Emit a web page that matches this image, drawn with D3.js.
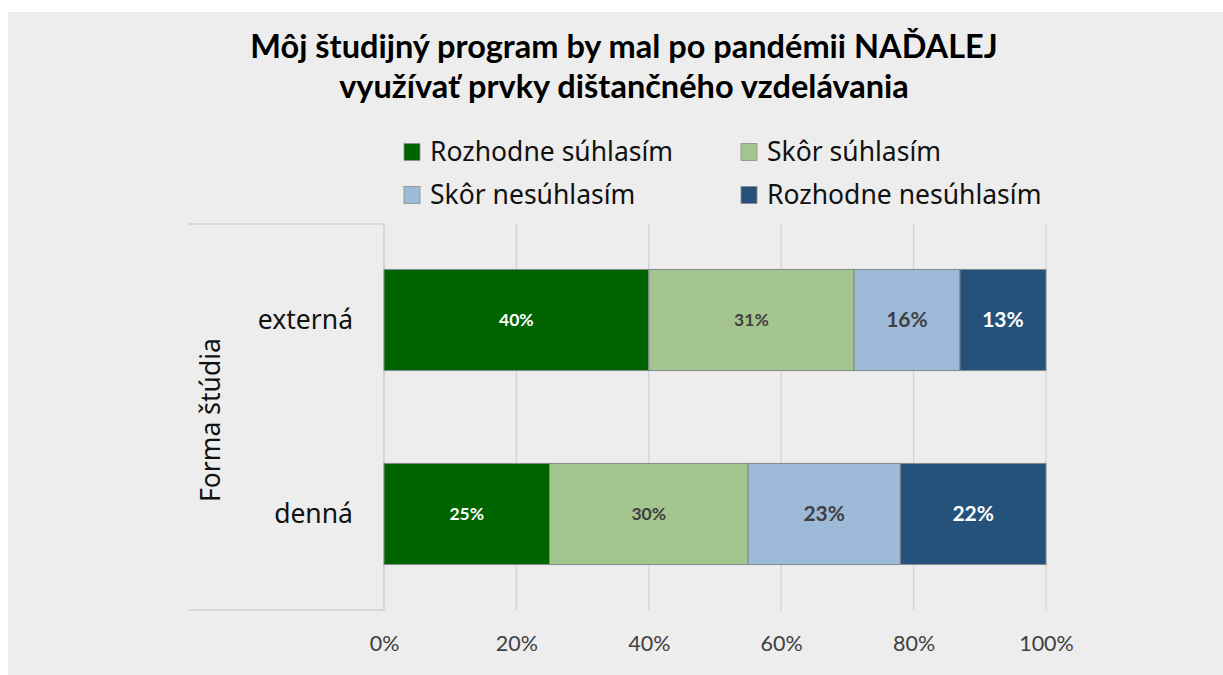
<!DOCTYPE html>
<html>
<head>
<meta charset="utf-8">
<script src="https://cdn.jsdelivr.net/npm/d3@7"></script>
<style>
  html, body { margin: 0; padding: 0; background: #ffffff; }
  svg { display: block; }
</style>
</head>
<body>
<svg id="chart" width="1223" height="675"></svg>
<script>
// Survey answers by form of study (shares of respondents, %)
const categories = ["externá", "denná"];
const seriesNames = ["Rozhodne súhlasím", "Skôr súhlasím", "Skôr nesúhlasím", "Rozhodne nesúhlasím"];
const externaValues = [40, 31, 16, 13];
const dennaValues = [25, 30, 23, 22];
const tickValues = [0, 20, 40, 60, 80, 100];
const titleLines = ["Môj študijný program by mal po pandémii NAĎALEJ", "využívať prvky dištančného vzdelávania"];
const axisTitle = "Forma štúdia";

const colors = ["#006400", "#a5c58f", "#9dbad8", "#24527a"];
const labelColors = ["#ffffff", "#404040", "#404040", "#ffffff"];
const labelSizes = [17.5, 17.5, 21, 21];

const rows = [
  { cat: categories[0], values: externaValues },
  { cat: categories[1], values: dennaValues }
];

const svg = d3.select("#chart");
const W = 1223, H = 675;

// background panel
svg.append("rect").attr("x", 8).attr("y", 12).attr("width", W - 8).attr("height", H - 12)
  .attr("fill", "#ededed");

// title
const titleFont = "Lato, 'Open Sans', sans-serif";
svg.append("g").selectAll("text").data(titleLines).join("text")
  .attr("x", 624).attr("y", (d, i) => 58 + i * 40)
  .attr("text-anchor", "middle")
  .attr("font-family", titleFont).attr("font-weight", 700).attr("font-size", 32.5)
  .attr("fill", "#000").text(d => d);

// legend
const legendFont = "'Noto Sans', 'Open Sans', sans-serif";
const legendPos = [[404, 152], [741, 152], [404, 195], [741, 195]];
const lg = svg.append("g").selectAll("g").data(seriesNames).join("g")
  .attr("transform", (d, i) => `translate(${legendPos[i][0]},${legendPos[i][1]})`);
lg.append("rect").attr("x", 0).attr("y", -8.5).attr("width", 16).attr("height", 17)
  .attr("fill", (d, i) => colors[i]).attr("stroke", "#8c8c8c").attr("stroke-width", 0.8);
lg.append("text").attr("x", 26).attr("y", 0).attr("dy", "0.35em")
  .attr("font-family", legendFont).attr("font-size", 26.5).attr("fill", "#111").text(d => d);

// plot area
const x0 = 384, x1 = 1046, yTop = 224, yBot = 610;
const x = d3.scaleLinear().domain([0, 100]).range([x0, x1]);
const y = d3.scaleBand().domain(categories).range([yTop, yBot]).paddingInner(0.479).paddingOuter(0.2345);
const barH = y.bandwidth();

// gridlines
svg.append("g").selectAll("line").data(tickValues).join("line")
  .attr("x1", d => x(d)).attr("x2", d => x(d))
  .attr("y1", yTop).attr("y2", yBot)
  .attr("stroke", "#d2d2d2").attr("stroke-width", 1.3);

// category-axis frame
svg.append("path").attr("d", `M188,${yTop}H${x0}V${yBot}H188`)
  .attr("stroke", "#d2d2d2").attr("stroke-width", 1.5).attr("fill", "none");

// x axis tick labels
const xAxis = d3.axisBottom(x).tickValues(tickValues).tickFormat(d => d + "%").tickSize(0).tickPadding(0);
const gx = svg.append("g").attr("transform", `translate(0,${yBot + 26})`).call(xAxis);
gx.select(".domain").remove();
gx.selectAll("text").attr("font-family", "Lato, 'Open Sans', sans-serif").attr("font-size", 21.5)
  .attr("fill", "#404040");

// stacked bars
const stacked = rows.map(r => {
  let acc = 0;
  return { cat: r.cat, segs: r.values.map((v, i) => { const s = { i, v, a: acc, b: acc + v }; acc += v; return s; }) };
});
const rg = svg.append("g").selectAll("g").data(stacked).join("g");
rg.selectAll("rect").data(d => d.segs.map(s => ({ ...s, cat: d.cat }))).join("rect")
  .attr("x", s => x(s.a)).attr("width", s => x(s.b) - x(s.a))
  .attr("y", s => y(s.cat)).attr("height", barH)
  .attr("fill", s => colors[s.i]).attr("stroke", "#7f8a8f").attr("stroke-width", 1);
rg.selectAll("text").data(d => d.segs.map(s => ({ ...s, cat: d.cat }))).join("text")
  .attr("x", s => (x(s.a) + x(s.b)) / 2).attr("y", s => y(s.cat) + barH / 2)
  .attr("dy", "0.35em").attr("text-anchor", "middle")
  .attr("font-family", "Lato, 'Open Sans', sans-serif").attr("font-weight", 700)
  .attr("font-size", s => labelSizes[s.i]).attr("fill", s => labelColors[s.i])
  .text(s => s.v + "%");

// category labels
svg.append("g").selectAll("text").data(categories).join("text")
  .attr("x", 353).attr("y", d => y(d) + barH / 2).attr("dy", "0.35em")
  .attr("text-anchor", "end").attr("font-family", legendFont).attr("font-size", 26.5)
  .attr("fill", "#111").text(d => d);

// axis title
svg.append("text").attr("transform", `translate(220,${(yTop + yBot) / 2 + 3}) rotate(-90)`)
  .attr("text-anchor", "middle").attr("font-family", legendFont).attr("font-size", 26.5)
  .attr("fill", "#111").text(axisTitle);
</script>
</body>
</html>
